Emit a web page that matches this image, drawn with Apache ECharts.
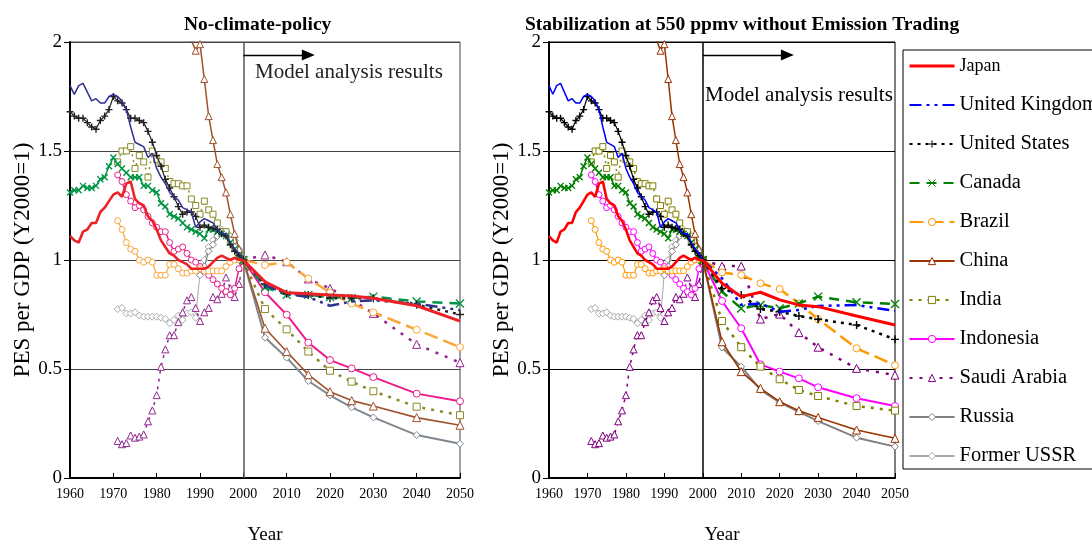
<!DOCTYPE html>
<html><head><meta charset="utf-8">
<script src="https://cdn.jsdelivr.net/npm/echarts@6/dist/echarts.min.js"></script>
<style>html,body{margin:0;padding:0;background:#fff}#c{width:1092px;height:546px}</style>
</head><body><div id="c"></div><script>
const _ = null;
// ---- historical data (same in both panels), Y2000 = 1 ----
const years = [1960,1961,1962,1963,1964,1965,1966,1967,1968,1969,1970,1971,1972,1973,1974,1975,1976,1977,1978,1979,1980,1981,1982,1983,1984,1985,1986,1987,1988,1989,1990,1991,1992,1993,1994,1995,1996,1997,1998,1999,2000];
const japan = [1.11,1.09,1.08,1.13,1.14,1.17,1.17,1.22,1.24,1.27,1.30,1.31,1.29,1.35,1.36,1.28,1.26,1.25,1.20,1.18,1.14,1.09,1.06,1.03,1.02,1.00,0.99,0.98,0.96,0.96,0.96,0.96,0.97,0.99,1.01,1.02,1.01,1.00,1.01,1.00,1.00];
const unitedKingdom = [1.80,1.76,1.80,1.81,1.77,1.73,1.74,1.72,1.72,1.75,1.76,1.75,1.73,1.69,1.61,1.54,1.53,1.52,1.47,1.49,1.42,1.38,1.35,1.31,1.29,1.275,1.24,1.23,1.22,1.15,1.175,1.19,1.18,1.17,1.14,1.12,1.12,1.08,1.05,1.03,1.00];
const unitedStates = [1.68,1.66,1.65,1.65,1.63,1.61,1.60,1.64,1.66,1.69,1.75,1.73,1.72,1.69,1.65,1.65,1.64,1.63,1.59,1.54,1.48,1.43,1.37,1.33,1.29,1.245,1.21,1.22,1.22,1.20,1.15,1.16,1.15,1.145,1.14,1.12,1.11,1.07,1.04,1.02,1.00];
const canada = [1.31,1.32,1.32,1.34,1.33,1.33,1.34,1.37,1.38,1.43,1.47,1.44,1.42,1.40,1.38,1.38,1.38,1.34,1.34,1.32,1.31,1.26,1.245,1.21,1.20,1.19,1.17,1.15,1.14,1.13,1.12,1.10,1.14,1.14,1.13,1.12,1.11,1.08,1.05,1.02,1.00];
const brazil = [_,_,_,_,_,_,_,_,_,_,_,1.18,1.14,1.08,1.05,1.04,1.00,0.99,1.00,0.99,0.93,0.93,0.93,0.98,0.98,0.96,0.94,0.94,0.95,0.95,0.96,0.95,0.95,0.95,0.95,0.95,0.97,0.99,1.00,1.00,1.00];
const china = [_,_,_,_,_,_,_,_,_,_,_,_,_,_,_,_,_,_,_,_,2.60,2.55,2.45,2.35,2.25,2.20,2.15,2.08,2.01,1.96,1.99,1.83,1.66,1.55,1.44,1.38,1.31,1.21,1.12,1.05,1.00];
const india = [_,_,_,_,_,_,_,_,_,_,_,1.45,1.50,1.50,1.52,1.42,1.48,1.45,1.38,1.50,1.46,1.45,1.42,1.36,1.35,1.35,1.34,1.34,1.28,1.25,1.21,1.27,1.23,1.21,1.17,1.13,1.13,1.09,1.06,1.03,1.00];
const indonesia = [_,_,_,_,_,_,_,_,_,_,_,1.39,1.36,1.30,1.27,1.24,1.25,1.23,1.20,1.17,1.15,1.13,1.13,1.08,1.04,1.05,1.06,1.03,1.00,0.99,0.97,0.95,0.93,0.91,0.89,0.87,0.855,0.84,0.87,0.96,1.00];
const saudiArabia = [_,_,_,_,_,_,_,_,_,_,_,0.17,0.155,0.16,0.195,0.185,0.19,0.20,0.26,0.31,0.38,0.51,0.59,0.655,0.655,0.715,0.76,0.815,0.83,0.78,0.72,0.76,0.78,0.83,0.82,0.845,0.92,0.87,0.83,0.89,1.00];
const russia = [_,_,_,_,_,_,_,_,_,_,_,_,_,_,_,_,_,_,_,_,_,_,_,_,_,_,_,_,_,_,0.93,0.97,1.04,1.07,1.11,1.13,1.13,1.11,1.09,1.05,1.00];
const formerUSSR = [_,_,_,_,_,_,_,_,_,_,_,0.775,0.78,0.755,0.755,0.76,0.745,0.74,0.74,0.74,0.74,0.735,0.73,0.71,0.725,0.745,0.725,0.755,0.76,0.735,0.94,1.00,1.06,1.09,1.12,1.14,1.13,1.10,1.07,1.04,1.00];

// ---- model results ----
const projYears = [2000,2005,2010,2015,2020,2025,2030,2040,2050];
// No-climate-policy
const japanNoPolicy = [1,0.90,0.85,0.845,0.84,0.835,0.825,0.79,0.72];
const ukNoPolicy = [1,0.885,0.845,0.83,0.79,0.81,0.815,0.80,0.77];
const usNoPolicy = [1,0.89,0.845,0.84,0.825,0.825,0.825,0.795,0.75];
const canadaNoPolicy = [1,0.875,0.84,0.84,0.83,0.825,0.832,0.81,0.80];
const brazilNoPolicy = [1,0.977,0.99,0.915,0.85,0.80,0.76,0.68,0.60];
const chinaNoPolicy = [1,0.687,0.58,0.474,0.396,0.355,0.33,0.277,0.242];
const indiaNoPolicy = [1,0.775,0.682,0.58,0.492,0.442,0.398,0.327,0.288];
const indonesiaNoPolicy = [1,0.852,0.749,0.621,0.541,0.503,0.463,0.387,0.352];
const saudiNoPolicy = [1,1.023,0.992,0.913,0.87,0.817,0.755,0.613,0.529];
const russiaNoPolicy = [1,0.644,0.552,0.445,0.379,0.324,0.278,0.197,0.157];
// Stabilization at 550 ppmv without emission trading
const japanStab = [1,0.893,0.832,0.852,0.817,0.794,0.786,0.743,0.702];
const ukStab = [1,0.916,0.794,0.801,0.763,0.771,0.789,0.794,0.766];
const usStab = [1,0.87,0.839,0.775,0.763,0.743,0.728,0.702,0.636];
const canadaStab = [1,0.855,0.778,0.794,0.778,0.801,0.832,0.806,0.798];
const brazilStab = [1,0.943,0.931,0.893,0.867,0.801,0.729,0.595,0.517];
const chinaStab = [1,0.625,0.488,0.411,0.35,0.309,0.278,0.22,0.182];
const indiaStab = [1,0.72,0.60,0.511,0.453,0.404,0.376,0.33,0.309];
const indonesiaStab = [1,0.812,0.687,0.521,0.488,0.457,0.416,0.366,0.33];
const saudiStab = [1,0.972,0.972,0.729,0.752,0.667,0.60,0.503,0.472];
const russiaStab = [1,0.599,0.511,0.404,0.347,0.304,0.261,0.185,0.144];

const names = ['Japan','United Kingdom','United States','Canada','Brazil','China','India','Indonesia','Saudi Arabia','Russia','Former USSR'];
const histData = [japan,unitedKingdom,unitedStates,canada,brazil,china,india,indonesia,saudiArabia,russia,formerUSSR];
const noPolicyData = [japanNoPolicy,ukNoPolicy,usNoPolicy,canadaNoPolicy,brazilNoPolicy,chinaNoPolicy,indiaNoPolicy,indonesiaNoPolicy,saudiNoPolicy,russiaNoPolicy,null];
const stabData = [japanStab,ukStab,usStab,canadaStab,brazilStab,chinaStab,indiaStab,indonesiaStab,saudiStab,russiaStab,null];

// ---- styles ----
const PLUS = 'path://M0,5L10,5M5,0L5,10';
const CROSS = 'path://M1,1L9,9M9,1L1,9';
const looks = [
  {sym:null, hs:0, ps:0, hw:2.6, hd:'solid', pw:3, pd:'solid', cL:'#EC2227', cR:'#FF0000'},
  {sym:null, hs:0, ps:0, hw:1.5, hd:'solid', pw:2.5, pd:[12,5,3,5,3,5], cL:'#2E3192', cR:'#0000FF'},
  {sym:PLUS, hs:7, ps:8, hw:1.2, hd:'solid', pw:2.5, pd:[3,5], cL:'#231F20', cR:'#000000'},
  {sym:CROSS, hs:6, ps:8, hw:1.5, hd:'solid', pw:2.5, pd:[10,7], cL:'#009444', cR:'#008000'},
  {sym:'circle', hs:6, ps:7, hw:1.2, hd:'solid', pw:2.5, pd:[14,6], cL:'#FBA63A', cR:'#FF9900'},
  {sym:'triangle', hs:7, ps:8, hw:1.5, hd:'solid', pw:1.6, pd:'solid', cL:'#A0522D', cR:'#993300'},
  {sym:'rect', hs:6, ps:7, hw:1.5, hd:[2,4], pw:2.5, pd:[3,6], cL:'#8A8A28', cR:'#808000'},
  {sym:'circle', hs:6, ps:7, hw:1.5, hd:'solid', pw:2, pd:'solid', cL:'#EC1C8C', cR:'#FF00FF'},
  {sym:'triangle', hs:7, ps:8, hw:1.5, hd:[3,5], pw:2.5, pd:[3,7], cL:'#92278F', cR:'#800080'},
  {sym:'diamond', hs:7, ps:7, hw:1.2, hd:'solid', pw:2, pd:'solid', cL:'#7F8790', cR:'#808080'},
  {sym:'diamond', hs:7, ps:7, hw:1, hd:'solid', pw:1, pd:'solid', cL:'#A7A9AC', cR:'#A6A6A6'}
];
const FONT = '"Liberation Serif", "Times New Roman", serif';

const series = [];
function add(gi, i, xs, ys, w, dash, size, extra) {
  const lk = looks[i];
  const c = gi === 0 ? lk.cL : lk.cR;
  const hollow = lk.sym && lk.sym.indexOf('path') !== 0;
  const s = {
    type: 'line', name: names[i], xAxisIndex: gi, yAxisIndex: gi,
    data: xs.map((x, k) => [x, ys[k]]),
    symbol: lk.sym || 'none', showSymbol: !!lk.sym, symbolSize: size,
    lineStyle: {color: c, width: w, type: dash},
    itemStyle: {color: hollow ? '#fff' : c, borderColor: c, borderWidth: hollow ? 1 : 1.4},
    z: 2 + (names.length - i), animation: false, silent: true, connectNulls: false,
    emphasis: {disabled: true}
  };
  if (extra) Object.assign(s, extra);
  series.push(s);
}
// projections first (legend takes style from first series with the name)
[1, 0].forEach(gi => {
  names.forEach((n, i) => {
    const d = gi === 0 ? noPolicyData[i] : stabData[i];
    if (d) add(gi, i, projYears, d, looks[i].pw, looks[i].pd, looks[i].ps);
  });
});
[0, 1].forEach(gi => {
  names.forEach((n, i) => {
    let extra = null;
    if (i === names.length - 1) {
      extra = {markLine: {
        silent: true, animation: false, symbol: ['none', 'none'], label: {show: false},
        lineStyle: {color: gi ? '#000' : '#555', width: 1.5, type: 'solid'},
        data: [
          {xAxis: 2000},
          [{coord: [2000, 1.94], lineStyle: {color: '#000', width: 1.3, type: 'solid'}},
           {coord: [gi ? 2022 : 2015, 1.94], symbol: 'triangle', symbolSize: [11, 13]}]
        ]
      }};
    }
    add(gi, i, years, histData[i], looks[i].hw, looks[i].hd, looks[i].hs, extra);
  });
});

function xAx(gi) {
  return {
    gridIndex: gi, type: 'value', min: 1960, max: 2050, interval: 10,
    axisLine: {show: true, onZero: false, lineStyle: {color: '#000', width: 2}},
    axisTick: {show: true, inside: true, length: 5, lineStyle: {color: '#000'}},
    axisLabel: {fontFamily: FONT, fontSize: 14, color: '#000', margin: 9, formatter: v => String(v)},
    splitLine: {show: false},
    name: 'Year', nameLocation: 'middle', nameGap: 48,
    nameTextStyle: {fontFamily: FONT, fontSize: 19, color: '#000'}
  };
}
function yAx(gi) {
  return {
    gridIndex: gi, type: 'value', min: 0, max: 2, interval: 0.5,
    axisLine: {show: true, lineStyle: {color: '#000', width: 2}},
    axisTick: {show: true, inside: false, length: 6, lineStyle: {color: '#000'}},
    axisLabel: {fontFamily: FONT, fontSize: 19, color: '#000', margin: 8},
    splitLine: {show: true, lineStyle: {color: gi ? '#000' : '#444', width: 1}},
    name: 'PES per GDP (Y2000=1)', nameLocation: 'middle', nameGap: 36, nameRotate: 90,
    nameTextStyle: {fontFamily: FONT, fontSize: 23, color: '#000'}
  };
}

const legendData = names.map((n, i) => {
  const it = {name: n};
  if (i === 0) { it.textStyle = {fontSize: 18}; it.lineStyle = {width: 3}; it.itemStyle = {opacity: 0}; }
  if (i === 1) { it.itemStyle = {opacity: 0}; }
  return it;
});

const option = {
  backgroundColor: '#fff',
  animation: false,
  title: [
    {text: 'No-climate-policy', left: 179, top: 10, textStyle: {fontFamily: FONT, fontSize: 19.5, fontWeight: 'bold', color: '#000'}},
    {text: 'Stabilization at 550 ppmv without Emission Trading', left: 520, top: 10, textStyle: {fontFamily: FONT, fontSize: 19.5, fontWeight: 'bold', color: '#000'}}
  ],
  grid: [
    {left: 70, top: 42, width: 390, height: 436, show: true, borderColor: '#444', borderWidth: 1, containLabel: false, outerBoundsMode: 'none'},
    {left: 549, top: 42, width: 346, height: 436, show: true, borderColor: '#000', borderWidth: 1, containLabel: false, outerBoundsMode: 'none'}
  ],
  xAxis: [xAx(0), xAx(1)],
  yAxis: [yAx(0), yAx(1)],
  legend: {
    orient: 'vertical', left: 903, top: 50, padding: [5, 40, 2, 5],
    itemWidth: 45, itemHeight: 9, itemGap: 17, selectedMode: false,
    backgroundColor: '#fff', borderColor: '#000', borderWidth: 1, borderRadius: 0,
    textStyle: {fontFamily: FONT, fontSize: 20.5, color: '#000', lineHeight: 22},
    itemStyle: {borderWidth: 1},
    data: legendData
  },
  graphic: [
    {type: 'text', left: 255, top: 62, style: {text: 'Model analysis results', font: '21px ' + FONT, fill: '#222'}},
    {type: 'text', left: 705, top: 85, style: {text: 'Model analysis results', font: '21px ' + FONT, fill: '#000'}}
  ],
  series: series
};
const chart = echarts.init(document.getElementById('c'), null, {renderer: 'canvas'});
chart.setOption(option);
</script></body></html>
